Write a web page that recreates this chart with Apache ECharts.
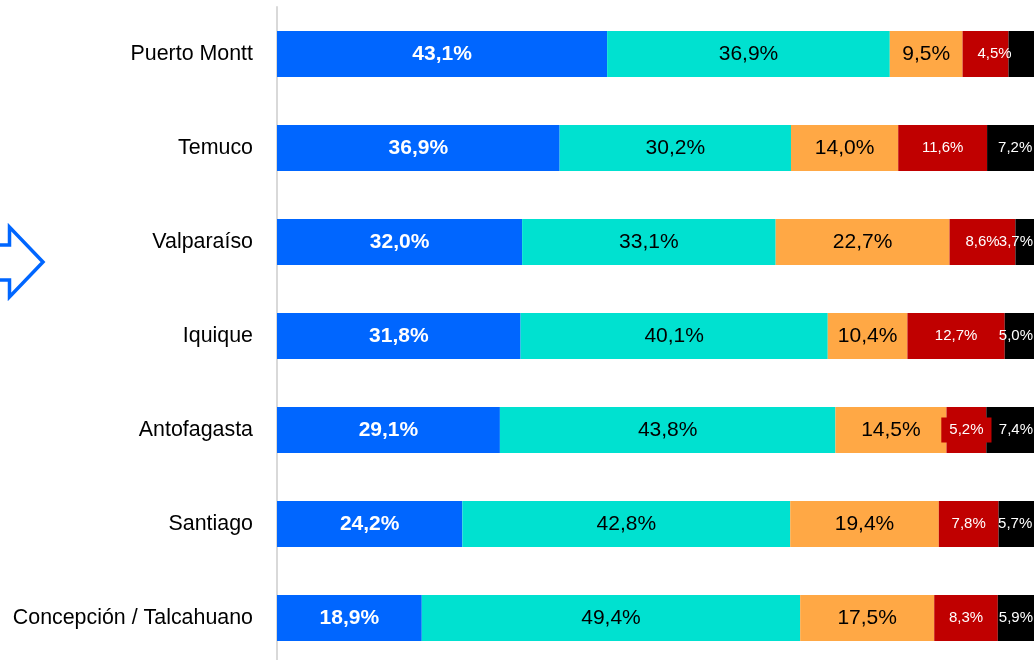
<!DOCTYPE html>
<html>
<head>
<meta charset="utf-8">
<script src="https://cdn.jsdelivr.net/npm/echarts@6/dist/echarts.min.js"></script>
<style>
html,body{margin:0;padding:0;background:#fff;}
#chart{width:1034px;height:660px;}
</style>
</head>
<body>
<div id="chart"></div>
<script>
const categories = ['Puerto Montt', 'Temuco', 'Valparaíso', 'Iquique', 'Antofagasta', 'Santiago', 'Concepción / Talcahuano'];
const blueValues   = [43.1, 36.9, 32.0, 31.8, 29.1, 24.2, 18.9];
const tealValues   = [36.9, 30.2, 33.1, 40.1, 43.8, 42.8, 49.4];
const orangeValues = [9.5, 14.0, 22.7, 10.4, 14.5, 19.4, 17.5];
const redValues    = [6.0, 11.6, 8.6, 12.7, 5.2, 7.8, 8.3];
const blackValues  = [4.5, 7.2, 3.7, 5.0, 7.4, 5.7, 5.9];
// label text as printed on the original (null = value itself)
const redLabelText   = ['4,5%', null, null, null, null, null, null];
const blackLabelShow = [false, true, true, true, true, true, true];

const fmt = v => v.toFixed(1).replace('.', ',') + '%';
const FONT = 'Liberation Sans, Arial, sans-serif';

function mk(name, values, color, labelOpt, perItem) {
  return {
    name: name,
    type: 'bar',
    stack: 'total',
    barWidth: 46,
    itemStyle: { color: color },
    label: Object.assign({ show: true, position: 'inside', fontFamily: FONT, formatter: p => fmt(p.value) }, labelOpt),
    data: values.map((v, i) => perItem ? perItem(v, i) : v)
  };
}

const chart = echarts.init(document.getElementById('chart'), null, { renderer: 'canvas' });
chart.setOption({
  animation: false,
  backgroundColor: '#ffffff',
  grid: { left: 277, top: 7, right: -9, bottom: -5, containLabel: false, outerBoundsMode: 'none' },
  xAxis: { type: 'value', min: 0, max: 100, show: false },
  yAxis: {
    type: 'category', data: categories, inverse: true,
    axisLine: { show: true, lineStyle: { color: '#d9d9d9', width: 2 } },
    axisTick: { show: false },
    axisLabel: { color: '#000', fontSize: 21.4, fontFamily: FONT, margin: 24 }
  },
  graphic: [{
    type: 'polyline',
    shape: { points: [[-10, 245], [9.5, 245], [9.5, 227], [43, 262], [9.5, 297], [9.5, 280], [-10, 280]] },
    style: { stroke: '#0066ff', lineWidth: 3.5, fill: null, lineJoin: 'miter' },
    z: 10
  }],
  series: [
    mk('blue', blueValues, '#0066ff', { color: '#fff', fontSize: 21, fontWeight: 'bold' }),
    mk('teal', tealValues, '#00e1d0', { color: '#000', fontSize: 21 }),
    mk('orange', orangeValues, '#ffa845', { color: '#000', fontSize: 21 }),
    mk('red', redValues, '#c00000', { color: '#fff', fontSize: 15 }, (v, i) => {
      const item = { value: v };
      if (redLabelText[i]) item.label = { formatter: redLabelText[i], offset: [9, 0] };
      if (categories[i] === 'Antofagasta') item.label = { backgroundColor: '#c00000', padding: [5, 8] };
      return item;
    }),
    mk('black', blackValues, '#000000', { color: '#fff', fontSize: 15, position: 'insideRight', distance: 10 }, (v, i) => {
      return blackLabelShow[i] ? v : { value: v, label: { show: false } };
    })
  ]
});
</script>
</body>
</html>
